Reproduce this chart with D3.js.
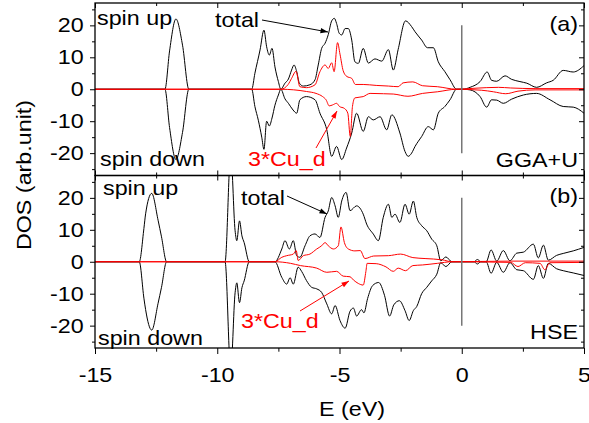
<!DOCTYPE html>
<html>
<head>
<meta charset="utf-8">
<script src="https://cdn.jsdelivr.net/npm/d3@7"></script>
<style>
  body { margin: 0; background: #fff; }
  svg { display: block; font-family: "Liberation Sans", Arial, sans-serif; }
</style>
</head>
<body>
<svg width="589" height="423"></svg>
<script>
// energy axis and dos ticks
let xMajor = [-15, -10, -5, 0, 5];
let xMinor = [-12.5, -7.5, -2.5, 2.5];
let yMajor = [-20, -10, 0, 10, 20];
let yMinor = [-25, -15, -5, 5, 15, 25];

// (a) GGA+U, [E, DOS]
let totUpA = [[-15,0],[-12.14,0],[-11.95,12],[-11.69,22],[-11.42,13.8],[-11.16,0],[-8.59,0],
	[-8.46,5],[-8.25,12.3],[-8.09,18.5],[-7.98,13.3],[-7.87,10.7],[-7.76,12.8],[-7.64,7],[-7.5,2.4],[-7.4,0],
	[-7.23,1.9],[-7.09,3.2],[-6.96,6],[-6.86,7.6],[-6.75,5.5],[-6.64,1.9],[-6.48,1],[-6.21,1.4],[-6.0,3],
	[-5.87,7.6],[-5.73,12.8],[-5.59,14.4],[-5.46,17.1],[-5.32,21.4],[-5.21,22.2],[-5.12,20.6],[-5.01,17.5],
	[-4.91,17],[-4.77,19],[-4.64,19],[-4.5,15.4],[-4.37,8.6],[-4.23,8.1],[-4.03,12.8],[-3.82,8.2],[-3.55,9.5],
	[-3.27,8.8],[-3.0,12.4],[-2.8,6],[-2.6,12.5],[-2.3,21.4],[-2.05,19.6],[-1.91,18],[-1.64,15.4],[-1.4,13],
	[-1.16,13],[-0.96,8.6],[-0.69,5.5],[-0.48,3],[-0.21,0],[0.05,0],[0.34,0.6],[0.75,2.4],[1.04,5.4],[1.22,2.8],
	[1.43,2.5],[1.77,4.2],[2.04,3.1],[2.38,2.4],[2.66,1.9],[3.06,0.6],[3.47,2.0],[3.74,2.8],[4.15,5.9],[4.56,5.4],[5,7.4]];
let totDnA = [[-15,0],[-12.14,0],[-11.95,-12],[-11.69,-22],[-11.42,-13.5],[-11.16,0],[-8.59,0],
	[-8.46,-5.4],[-8.32,-9.7],[-8.18,-15],[-8.09,-18.8],[-7.98,-10],[-7.87,-11.5],[-7.76,-9],[-7.64,-5],[-7.5,-1.8],[-7.4,0],
	[-7.23,-3],[-7.09,-4.4],[-6.9,-6.5],[-6.75,-7.5],[-6.62,-3.3],[-6.35,-2.3],[-6.0,-3.3],[-5.8,-7.5],[-5.52,-12.7],
	[-5.32,-21],[-5.12,-17.9],[-4.91,-22],[-4.71,-18.4],[-4.5,-13.7],[-4.3,-7.5],[-4.03,-13.2],[-3.82,-8.6],[-3.62,-9.6],
	[-3.34,-8.6],[-3.07,-12.7],[-2.86,-8],[-2.53,-13.7],[-2.32,-19.5],[-2.19,-21],[-2.05,-20],[-1.91,-17.9],[-1.64,-14.8],
	[-1.37,-11.7],[-1.16,-12.7],[-0.96,-7.5],[-0.69,-5.4],[-0.48,-3.3],[-0.21,0],[0.05,0],[0.34,-0.2],[0.75,-2.3],
	[1.02,-5.6],[1.22,-3.3],[1.43,-3.4],[1.7,-4.4],[2.04,-3.1],[2.52,-1.8],[3.06,-1.3],[3.61,-3.3],[4.15,-5.4],[4.56,-5.6],[5,-7.5]];
let cuUpA = [[-15,0],[-7.4,0],[-7.1,1.5],[-6.96,3.4],[-6.78,5.6],[-6.62,0.8],[-6.35,0.5],[-6.0,1.4],[-5.8,5.5],
	[-5.59,7.6],[-5.46,6.5],[-5.32,8.3],[-5.22,5.5],[-5.08,14.6],[-4.98,11],[-4.85,5.8],[-4.7,4],[-4.5,3.4],[-4.35,1.5],
	[-4.03,1.5],[-3.5,1.2],[-3,1],[-2.6,0.8],[-2.4,2.0],[-2.0,2.3],[-1.6,1.1],[-1,0.8],[-0.21,0],[0.5,0.3],[1.5,0.6],
	[2,0.4],[3,0.2],[5,0.2]];
let cuDnA = [[-15,0],[-7.4,0],[-6.35,-0.7],[-5.96,-1.3],[-5.69,-2.3],[-5.55,-3.3],[-5.42,-5.2],[-5.28,-4.9],[-5.12,-4.4],
	[-5.0,-5.4],[-4.8,-6],[-4.66,-7.5],[-4.56,-14.8],[-4.47,-5.4],[-4.37,-2.7],[-4.03,-2.3],[-3.75,-1.3],[-3.2,-1.4],
	[-2.8,-1.5],[-2.2,-2.2],[-1.6,-1.3],[-1,-0.8],[-0.21,0],[0.8,-0.3],[1.3,-0.8],[1.8,-1.4],[2.3,-0.6],[3,-0.2],[5,-0.2]];

// (b) HSE, [E, DOS]
let totUpB = [[-15,0],[-13.19,0],[-13.0,10.4],[-12.93,15],[-12.68,21.4],[-12.42,13],[-12.28,7.8],[-12.07,0],
	[-9.68,0],[-9.45,34],[-9.27,9.7],[-9.2,6.6],[-9.09,12.8],[-8.99,8.1],[-8.9,6],[-8.69,0],[-7.64,0],
	[-7.36,4],[-7.23,6.6],[-7.05,4],[-6.89,6.6],[-6.75,1.9],[-6.62,1.4],[-6.41,5],[-6.21,8.1],[-6.0,8.7],[-5.8,7.6],
	[-5.59,13.9],[-5.46,15.9],[-5.32,20.1],[-5.18,17.5],[-5.05,13.9],[-4.91,19],[-4.73,21.7],[-4.57,16],[-4.3,17.5],
	[-4.03,14.9],[-3.89,11.8],[-3.62,8.7],[-3.41,6.6],[-3.21,13.9],[-3.0,18],[-2.86,13.9],[-2.73,14.9],[-2.53,12.3],
	[-2.32,18],[-2.15,14.9],[-1.98,19],[-1.84,13.9],[-1.64,11.3],[-1.43,9.7],[-1.23,7.1],[-1.02,5],[-0.86,0.3],
	[-0.65,1.5],[-0.4,0],[0.5,0],[0.64,0.7],[0.78,0],[1.0,0],[1.2,3.7],[1.43,0.2],[1.7,3.5],[1.97,0.3],[2.25,2.7],
	[2.52,3],[2.93,5.5],[3.13,1.2],[3.34,5.2],[3.54,0.5],[3.88,2],[4.15,2.6],[4.56,3.4],[5,4.5]];
let totDnB = [[-15,0],[-13.19,0],[-13.0,-11.4],[-12.93,-15],[-12.68,-21.4],[-12.42,-13],[-12.28,-8],[-12.07,0],
	[-9.68,0],[-9.45,-34],[-9.27,-9.7],[-9.2,-6.6],[-9.09,-12.8],[-8.99,-8.1],[-8.9,-6],[-8.69,0],[-7.64,0],
	[-7.36,-4.9],[-7.16,-7],[-7.02,-5],[-6.89,-7],[-6.69,-1.7],[-6.55,-3],[-6.35,-5.9],[-6.14,-8],[-5.93,-8.5],
	[-5.73,-9.6],[-5.52,-13.2],[-5.32,-16.3],[-5.18,-13.7],[-4.98,-18.4],[-4.77,-20.8],[-4.57,-15.5],[-4.43,-14.5],
	[-4.3,-17],[-4.1,-15],[-4.0,-16],[-3.85,-11.5],[-3.65,-7.5],[-3.4,-6.5],[-3.16,-10.5],[-2.95,-17],[-2.78,-13.5],
	[-2.55,-12.2],[-2.32,-15.3],[-2.15,-18.4],[-1.98,-15.3],[-1.84,-14],[-1.64,-10],[-1.43,-8],[-1.23,-6],[-1.02,-3.9],
	[-0.86,-0.3],[-0.65,-1.5],[-0.4,0],[0.5,0],[0.64,-0.7],[0.78,0],[1.0,0],[1.2,-3.6],[1.43,-0.2],[1.7,-3.3],
	[1.97,-0.3],[2.25,-2.5],[2.52,-2.8],[2.93,-5.5],[3.13,-1.2],[3.34,-5.2],[3.54,-0.5],[3.88,-2.2],[4.15,-2.8],
	[4.56,-3.5],[5,-4.3]];
let cuUpB = [[-15,0],[-7.64,0],[-7.36,1.4],[-7.16,1.9],[-6.89,2.4],[-6.77,3.5],[-6.69,0.4],[-6.48,1.9],[-6.21,2.4],
	[-5.93,4],[-5.73,5],[-5.59,6],[-5.46,5],[-5.25,4],[-5.05,5],[-4.94,10.9],[-4.8,6],[-4.64,4],[-4.37,3.4],
	[-4.15,3.5],[-3.96,1],[-3.6,1.8],[-3.0,1.9],[-2.5,2.4],[-2.0,1.3],[-1.5,1.0],[-0.8,0.6],[-0.4,0],[2,0.2],[5,0.2]];
let cuDnB = [[-15,0],[-7.64,0],[-7.0,-0.5],[-6.6,-1.2],[-5.93,-2],[-5.52,-3.3],[-5.12,-3],[-4.85,-4.5],[-4.57,-4.7],
	[-4.43,-5.7],[-4.23,-6.8],[-4.03,-7.3],[-3.92,-3],[-3.87,-0.5],[-3.5,-0.6],[-3.1,-1.6],[-2.8,-3],[-2.6,-2],
	[-2.3,-2.8],[-2.0,-1.2],[-1.6,-1],[-1,-0.5],[-0.4,0],[2.0,-0.2],[2.3,-1.5],[2.6,-0.3],[3.2,-0.5],[3.4,-2.5],
	[3.6,-0.3],[5,-0.2]];

let svg = d3.select('svg');
let sx = 1.165; // reference text is stretched horizontally
let fs = 20;
let fontFam = '"Liberation Sans", Arial, sans-serif';

let x = d3.scaleLinear().domain([-15, 5]).range([95, 584]);

let defs = svg.append('defs');
function marker(id, color) {
	defs.append('marker')
		.attr('id', id)
		.attr('viewBox', '0 -4 10 8')
		.attr('refX', 10).attr('refY', 0)
		.attr('markerWidth', 9).attr('markerHeight', 6)
		.attr('markerUnits', 'userSpaceOnUse')
		.attr('orient', 'auto')
		.append('path')
		.attr('d', 'M0,-3.5L10,0L0,3.5Z')
		.attr('fill', color);
}
marker('arrK', '#000');
marker('arrR', '#f00');

function label(g, px, py, txt, color, anchor) {
	g.append('text')
		.attr('transform', `translate(${px},${py}) scale(${sx},1)`)
		.attr('text-anchor', anchor || 'start')
		.attr('font-size', fs)
		.attr('fill', color || '#000')
		.text(txt);
}

function arrow(g, x1, y1, x2, y2, color, id) {
	g.append('line')
		.attr('x1', x1).attr('y1', y1).attr('x2', x2).attr('y2', y2)
		.attr('stroke', color).attr('stroke-width', 1)
		.attr('marker-end', `url(#${id})`);
}

let panels = [
	{ top: 3, bottom: 175.5, tot: [totUpA, totDnA], cu: [cuUpA, cuDnA], last: false },
	{ top: 175.5, bottom: 348, tot: [totUpB, totDnB], cu: [cuUpB, cuDnB], last: true }
];

panels.forEach(function(p, i) {
	let y = d3.scaleLinear().domain([-27, 27]).range([p.bottom, p.top]);
	let g = svg.append('g');

	defs.append('clipPath').attr('id', 'clip' + i)
		.append('rect')
		.attr('x', x(-15)).attr('y', p.top)
		.attr('width', x(5) - x(-15)).attr('height', p.bottom - p.top);

	let line = d3.line()
		.x(d => x(d[0]))
		.y(d => y(d[1]))
		.curve(d3.curveMonotoneX);

	let plot = g.append('g').attr('clip-path', `url(#clip${i})`);

	plot.selectAll('path.tot')
		.data(p.tot)
		.join('path')
		.attr('class', 'tot')
		.attr('d', line)
		.attr('fill', 'none')
		.attr('stroke', '#000')
		.attr('stroke-width', 1);

	plot.selectAll('path.cu')
		.data(p.cu)
		.join('path')
		.attr('class', 'cu')
		.attr('d', line)
		.attr('fill', 'none')
		.attr('stroke', '#f00')
		.attr('stroke-width', 1);

	// Fermi level
	g.append('line')
		.attr('x1', x(0)).attr('x2', x(0))
		.attr('y1', y(20)).attr('y2', y(-20))
		.attr('stroke', '#777').attr('stroke-width', 1.5);

	// left axis
	let left = g.append('g').attr('transform', `translate(${x(-15)},0)`);
	left.append('g')
		.call(d3.axisLeft(y).tickValues(yMajor).tickSize(5).tickPadding(4.75).tickFormat(d => String(d)));
	left.append('g')
		.call(d3.axisLeft(y).tickValues(yMinor).tickSize(3).tickFormat(''));
	left.selectAll('text')
		.attr('font-size', fs)
		.attr('font-family', fontFam)
		.attr('fill', '#000')
		.attr('transform', `scale(${sx},1)`);

	// right axis, inward ticks
	let right = g.append('g').attr('transform', `translate(${x(5)},0)`);
	right.append('g').call(d3.axisLeft(y).tickValues(yMajor).tickSize(5).tickFormat(''));
	right.append('g').call(d3.axisLeft(y).tickValues(yMinor).tickSize(3).tickFormat(''));

	// top axis, inward ticks
	let top = g.append('g').attr('transform', `translate(0,${p.top})`);
	top.append('g').call(d3.axisBottom(x).tickValues(xMajor).tickSize(5).tickFormat(''));
	top.append('g').call(d3.axisBottom(x).tickValues(xMinor).tickSize(3).tickFormat(''));

	let bot = g.append('g').attr('transform', `translate(0,${p.bottom})`);
	if (p.last) {
		bot.append('g')
			.call(d3.axisBottom(x).tickValues(xMajor).tickSize(6).tickFormat(d => String(d)));
		bot.append('g')
			.call(d3.axisBottom(x).tickValues(xMinor).tickSize(3.7).tickFormat(''));
		bot.selectAll('text')
			.attr('font-size', fs)
			.attr('font-family', fontFam)
			.attr('fill', '#000')
			.attr('transform', `scale(${sx},1)`)
			.attr('y', 34)
			.attr('dy', null);
	} else {
		bot.append('g').call(d3.axisTop(x).tickValues(xMajor).tickSize(5).tickFormat(''));
		bot.append('g').call(d3.axisTop(x).tickValues(xMinor).tickSize(3).tickFormat(''));
	}

	g.selectAll('.domain').remove();
	g.selectAll('.tick line').attr('stroke', '#000').attr('stroke-width', 1);

	// frame
	g.append('rect')
		.attr('x', x(-15)).attr('y', p.top)
		.attr('width', x(5) - x(-15)).attr('height', p.bottom - p.top)
		.attr('fill', 'none').attr('stroke', '#000').attr('stroke-width', 1.3);
});

let ann = svg.append('g');
// panel (a)
label(ann, 97, 25, 'spin up');
label(ann, 100, 166, 'spin down');
label(ann, 215, 27, 'total');
arrow(ann, 262, 20, 328, 32, '#000', 'arrK');
label(ann, 578, 31, '(a)', '#000', 'end');
label(ann, 578, 167, 'GGA+U', '#000', 'end');
label(ann, 248, 166, '3*Cu_d', '#f00');
arrow(ann, 316, 148, 337, 111, '#f00', 'arrR');
// panel (b)
label(ann, 103, 195, 'spin up');
label(ann, 98, 345, 'spin down');
label(ann, 241, 205, 'total');
arrow(ann, 287, 196, 327, 214, '#000', 'arrK');
label(ann, 578, 203, '(b)', '#000', 'end');
label(ann, 578, 339, 'HSE', '#000', 'end');
label(ann, 241, 328, '3*Cu_d', '#f00');
arrow(ann, 300, 311, 349, 281, '#f00', 'arrR');

// axis titles
svg.append('text')
	.attr('transform', `translate(31,175) rotate(-90) scale(${sx},1)`)
	.attr('text-anchor', 'middle')
	.attr('font-size', fs)
	.text('DOS (arb.unit)');
label(svg, 352, 416, 'E (eV)', '#000', 'middle');
</script>
</body>
</html>
